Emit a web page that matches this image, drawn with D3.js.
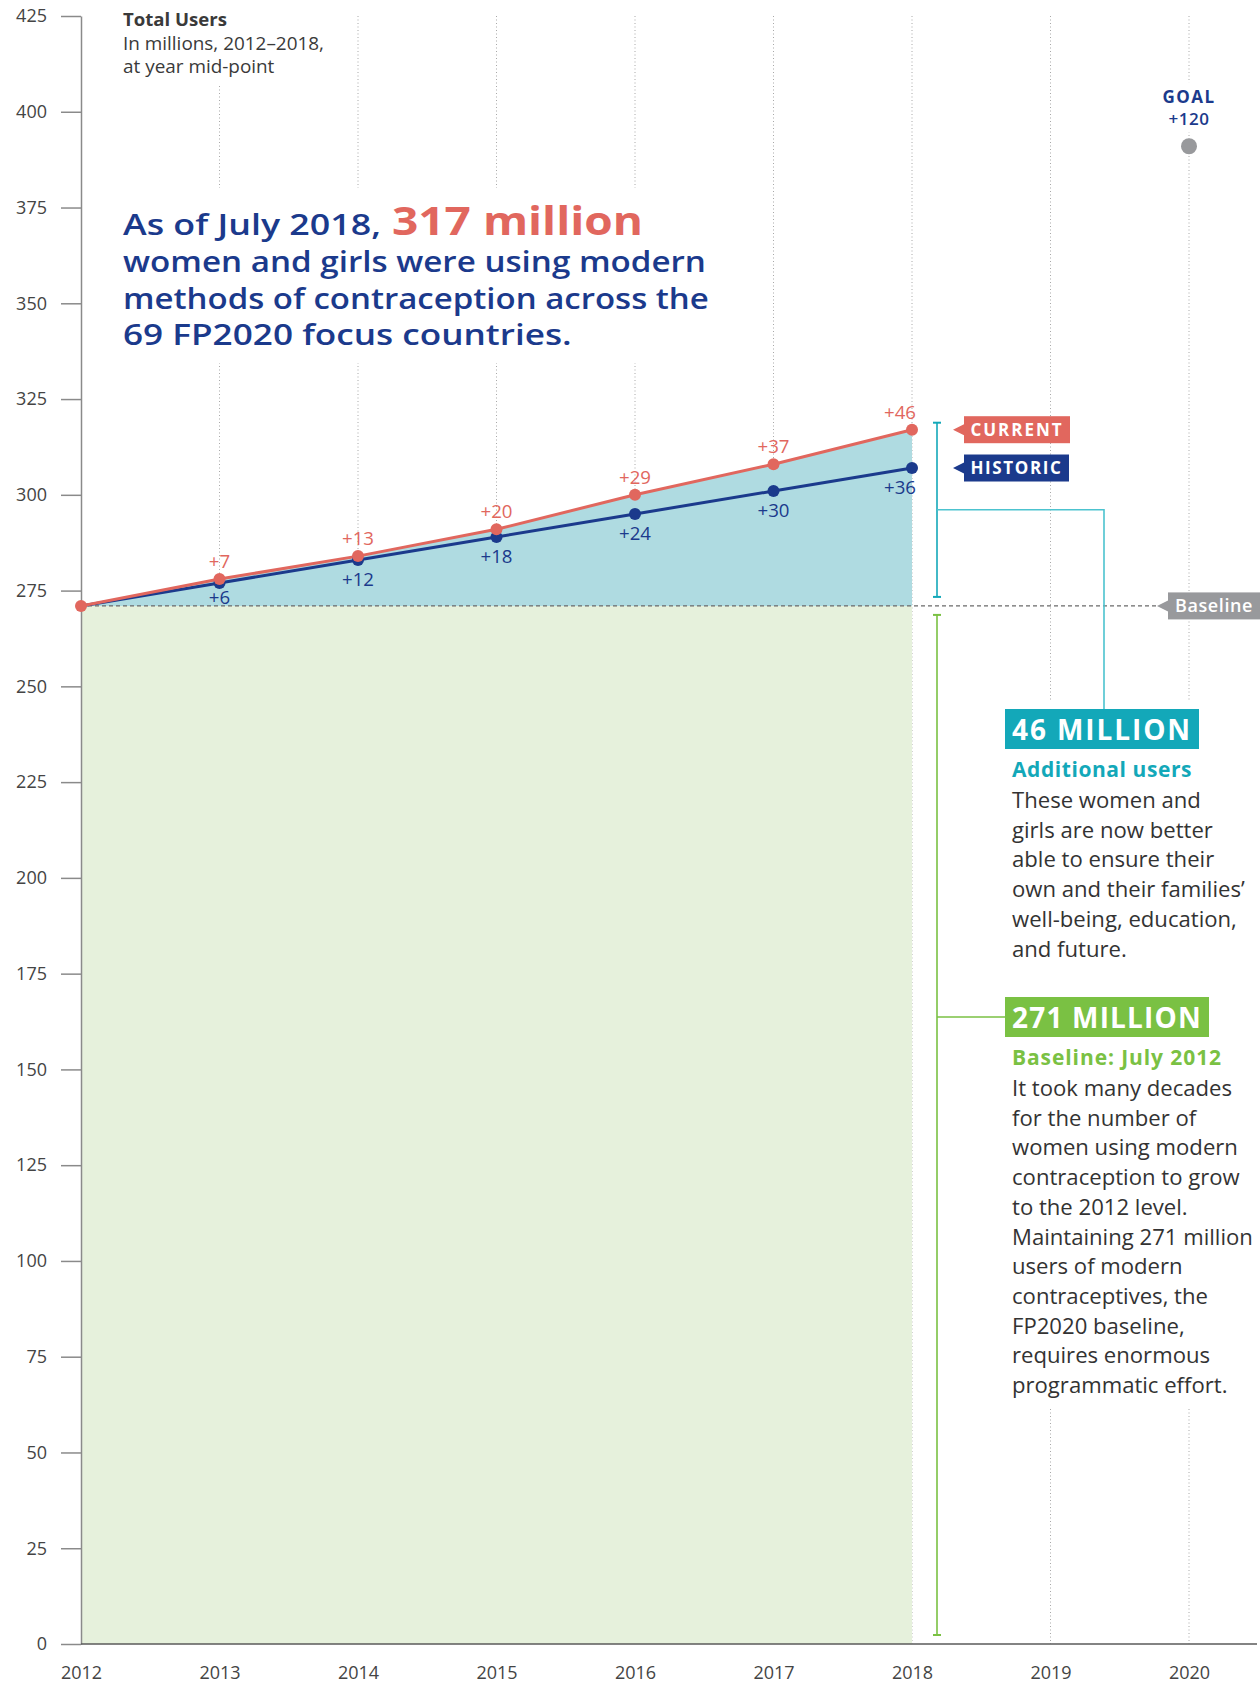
<!DOCTYPE html>
<html>
<head>
<meta charset="utf-8">
<script src="https://cdn.jsdelivr.net/npm/d3@7"></script>
<style>
  html, body { margin: 0; padding: 0; background: #fff; }
  svg { display: block; font-family: "Open Sans", "Noto Sans", sans-serif; }
</style>
</head>
<body>
<svg id="chart" width="1260" height="1685"></svg>
<script>
// ---- data ----
const years = [2012, 2013, 2014, 2015, 2016, 2017, 2018];
const currentUsers = [271, 278, 284, 291, 300, 308, 317];   // millions, current estimate
const historicUsers = [271, 277, 283, 289, 295, 301, 307];  // millions, historic trend
const baselineUsers = 271;
const goalYear = 2020;
const goalGain = 120;
const axisYears = [2012, 2013, 2014, 2015, 2016, 2017, 2018, 2019, 2020];
const gridYears = [2013, 2014, 2015, 2016, 2017, 2018, 2019, 2020];
const yTicks = [0, 25, 50, 75, 100, 125, 150, 175, 200, 225, 250, 275, 300, 325, 350, 375, 400, 425];

const headerLines = ["Total Users", "In millions, 2012–2018,", "at year mid-point"];
const headlineLead = "As of July 2018,";
const headlineHighlight = "317 million";
const headlineRest = ["women and girls were using modern", "methods of contraception across the", "69 FP2020 focus countries."];

const additionalTitle = "46 MILLION";
const additionalHeading = "Additional users";
const additionalBody = ["These women and", "girls are now better", "able to ensure their", "own and their families’", "well-being, education,", "and future."];

const baselineTitle = "271 MILLION";
const baselineHeading = "Baseline: July 2012";
const baselineBody = ["It took many decades", "for the number of", "women using modern", "contraception to grow", "to the 2012 level.", "Maintaining 271 million", "users of modern", "contraceptives, the", "FP2020 baseline,", "requires enormous", "programmatic effort."];

// ---- colours ----
const NAVY = "#1b3a8c";
const SALMON = "#e1675e";
const TEAL = "#13a8b9";
const TEAL_LIGHT = "#4cc3cf";
const TEAL_AREA = "#afdbe1";
const GREEN = "#7ac143";
const GREEN_AREA = "#e6f1dc";
const GREY = "#98999c";
const INK = "#333333";

const svg = d3.select("#chart");
const x = d3.scaleLinear().domain([2012, 2020]).range([81, 1189]);
const y = d3.scaleLinear().domain([0, 425]).range([1644, 16]);

// scale a text element's font-size so it spans the given width
function fit(sel, target) {
  const w = sel.node().getComputedTextLength();
  const fs = parseFloat(sel.attr("font-size"));
  const nfs = fs * target / w;
  sel.attr("font-size", nfs.toFixed(2));
  return nfs;
}
// keep the font-size, spread the letters so the text spans the given width
function spread(sel, target) {
  sel.attr("letter-spacing", 0);
  const w = sel.node().getComputedTextLength();
  const n = sel.text().length;
  sel.attr("letter-spacing", ((target - w) / n).toFixed(3));
}
// widen the glyphs horizontally (anchored at the text's x) to span the given width
function stretch(sel, target) {
  const w = sel.node().getComputedTextLength();
  const k = target / w;
  const x0 = parseFloat(sel.attr("x"));
  sel.attr("transform", `matrix(${k.toFixed(4)},0,0,1,${(x0 * (1 - k)).toFixed(2)},0)`);
}

const gGrid = svg.append("g");
const gKnock = svg.append("g");
const gArea = svg.append("g");
const gAxis = svg.append("g");
const gGuide = svg.append("g");
const gMarks = svg.append("g");
const gText = svg.append("g");

// dotted year gridlines
gGrid.selectAll("line").data(gridYears).join("line")
  .attr("x1", d => x(d)).attr("x2", d => x(d))
  .attr("y1", y(425)).attr("y2", y(0))
  .attr("stroke", "#a8a8a8").attr("stroke-width", 1)
  .attr("stroke-dasharray", "1 2.5");

// white knockout rectangle so the gridlines break around a text block
function knockout(x0, y0, x1, y1) {
  gKnock.append("rect").attr("x", x0).attr("y", y0)
    .attr("width", x1 - x0).attr("height", y1 - y0).attr("fill", "#fff");
}

// ---- areas ----
const series = years.map((yr, i) => ({ year: yr, cur: currentUsers[i], hist: historicUsers[i] }));
gArea.append("path").datum(series)
  .attr("d", d3.area().x(d => x(d.year)).y0(y(0)).y1(y(baselineUsers)))
  .attr("fill", GREEN_AREA);
gArea.append("path").datum(series)
  .attr("d", d3.area().x(d => x(d.year)).y0(y(baselineUsers)).y1(d => y(d.cur)))
  .attr("fill", TEAL_AREA);

// ---- axes ----
const yAxis = gAxis.append("g").attr("transform", `translate(${x(2012)},0)`)
  .call(d3.axisLeft(y).tickValues(yTicks).tickSize(20).tickSizeOuter(0).tickPadding(14));
yAxis.select(".domain").attr("stroke", "#8a8a8a").attr("stroke-width", 1.5);
yAxis.selectAll(".tick line").attr("stroke", "#8a8a8a").attr("stroke-width", 1.5);
yAxis.selectAll(".tick text").attr("font-size", 18).attr("fill", "#444")
  .attr("font-family", "'Open Sans', sans-serif");

const xAxis = gAxis.append("g").attr("transform", `translate(0,${y(0)})`)
  .call(d3.axisBottom(x).tickValues(axisYears).tickFormat(d3.format("d")).tickSize(0).tickPadding(22));
xAxis.select(".domain").remove();
xAxis.selectAll(".tick text").attr("font-size", 18).attr("fill", "#444")
  .attr("font-family", "'Open Sans', sans-serif");
gAxis.append("line")
  .attr("x1", x(2012)).attr("x2", x(2020) + 68)
  .attr("y1", y(0)).attr("y2", y(0))
  .attr("stroke", "#5a5a5a").attr("stroke-width", 1.5);

// baseline reference
gGuide.append("line")
  .attr("x1", x(2012)).attr("x2", x(2020) - 33)
  .attr("y1", y(baselineUsers)).attr("y2", y(baselineUsers))
  .attr("stroke", "#6a6a6a").attr("stroke-width", 1.3).attr("stroke-dasharray", "4 3");

// ---- lines and dots ----
const lineCur = d3.line().x(d => x(d.year)).y(d => y(d.cur));
const lineHist = d3.line().x(d => x(d.year)).y(d => y(d.hist));
gMarks.append("path").datum(series).attr("d", lineHist)
  .attr("fill", "none").attr("stroke", NAVY).attr("stroke-width", 3);
gMarks.append("path").datum(series).attr("d", lineCur)
  .attr("fill", "none").attr("stroke", SALMON).attr("stroke-width", 3);
gMarks.selectAll("circle.hist").data(series.slice(1)).join("circle").attr("class", "hist")
  .attr("cx", d => x(d.year)).attr("cy", d => y(d.hist)).attr("r", 6).attr("fill", NAVY);
gMarks.selectAll("circle.cur").data(series).join("circle").attr("class", "cur")
  .attr("cx", d => x(d.year)).attr("cy", d => y(d.cur)).attr("r", 6).attr("fill", SALMON);

// gain labels
const lastYear = years[years.length - 1];
const labelled = series.slice(1);
const curLabels = gMarks.selectAll("text.cur").data(labelled).join("text").attr("class", "cur")
  .attr("x", d => d.year === lastYear ? x(d.year) + 4 : x(d.year))
  .attr("y", d => y(d.cur) - 11)
  .attr("text-anchor", d => d.year === lastYear ? "end" : "middle")
  .attr("font-size", 17).attr("fill", SALMON)
  .text(d => "+" + (d.cur - baselineUsers));
const histLabels = gMarks.selectAll("text.hist").data(labelled).join("text").attr("class", "hist")
  .attr("x", d => d.year === lastYear ? x(d.year) + 4 : x(d.year))
  .attr("y", d => y(d.hist) + Math.min(26, y(baselineUsers) - y(d.hist) - 2))
  .attr("text-anchor", d => d.year === lastYear ? "end" : "middle")
  .attr("font-size", 17).attr("fill", NAVY)
  .text(d => "+" + (d.hist - baselineUsers));
const labelSize = fit(curLabels.filter(d => d.year === 2017), 32).toFixed(2);
curLabels.attr("font-size", labelSize);
histLabels.attr("font-size", labelSize);

// ---- pointer tags ----
function tag(cx, cy, label, fill, boxW, textW, fs, weight) {
  const g = gText.append("g");
  g.append("path")
    .attr("d", `M${cx},${cy} L${cx + 12},${cy - 6} L${cx + 12},${cy + 6} Z`)
    .attr("fill", fill);
  g.append("rect").attr("x", cx + 11).attr("y", cy - 13.5)
    .attr("width", boxW).attr("height", 27).attr("fill", fill);
  const t = g.append("text")
    .attr("x", cx + 11 + (boxW - textW) / 2).attr("y", cy + 6)
    .attr("fill", "#fff")
    .attr("font-size", fs).attr("font-weight", weight)
    .text(label);
  spread(t, textW);
}
const tagX = x(lastYear) + 41;
tag(tagX, y(currentUsers[currentUsers.length - 1]), "CURRENT", SALMON, 106, 93, 17, 700);
tag(tagX, y(historicUsers[historicUsers.length - 1]), "HISTORIC", NAVY, 105, 92, 17, 700);
tag(x(2020) - 32, y(baselineUsers), "Baseline", GREY, 92, 78, 18, 600);

// ---- brackets and connectors ----
const bx = x(lastYear) + 25;
function bracket(y1, y2, colour) {
  gGuide.append("line").attr("x1", bx).attr("x2", bx).attr("y1", y1).attr("y2", y2)
    .attr("stroke", colour).attr("stroke-width", 1.6);
  [y1, y2].forEach(v => gGuide.append("line")
    .attr("x1", bx - 4).attr("x2", bx + 4).attr("y1", v).attr("y2", v)
    .attr("stroke", colour).attr("stroke-width", 2));
}
const tealTop = y(currentUsers[currentUsers.length - 1]) - 7;
const tealBot = y(baselineUsers) - 9;
bracket(tealTop, tealBot, TEAL);
bracket(y(baselineUsers) + 9, y(0) - 9, GREEN);

// ---- annotation blocks ----
const annX = 1005;
function annotation(top, title, heading, body, titleW, headW, colour) {
  const g = gText.append("g");
  const box = g.append("rect").attr("x", annX).attr("y", top).attr("height", 40).attr("fill", colour);
  const t = g.append("text").attr("x", annX + 7).attr("y", top + 31)
    .attr("font-size", 28).attr("font-weight", 700).attr("fill", "#fff").text(title);
  spread(t, titleW);
  box.attr("width", titleW + 14);
  const h = g.append("text").attr("x", annX + 7).attr("y", top + 68)
    .attr("font-size", 21).attr("font-weight", 700).attr("fill", colour).text(heading);
  spread(h, headW);
  const lines = g.selectAll("text.body").data(body).join("text").attr("class", "body")
    .attr("x", annX + 7).attr("y", (d, i) => top + 99 + i * 29.7)
    .attr("font-size", 21).attr("fill", INK).text(d => d);
  return { g, lines };
}
const add = annotation(709, additionalTitle, additionalHeading, additionalBody, 180, 180, TEAL);
const base = annotation(997, baselineTitle, baselineHeading, baselineBody, 190, 210, GREEN);
// shared body size: the widest line of both notes spans the column
let widest = 0;
add.lines.each(function () { widest = Math.max(widest, this.getComputedTextLength()); });
base.lines.each(function () { widest = Math.max(widest, this.getComputedTextLength()); });
const bodySize = (21 * 241 / widest).toFixed(2);
add.lines.attr("font-size", bodySize);
base.lines.attr("font-size", bodySize);

// connectors from the brackets to the notes
const tealMid = (tealTop + tealBot) / 2;
gGuide.append("path")
  .attr("d", `M${bx},${tealMid} H1104 V709`)
  .attr("fill", "none").attr("stroke", TEAL_LIGHT).attr("stroke-width", 1.6);
gGuide.append("line")
  .attr("x1", bx).attr("x2", annX).attr("y1", 1017).attr("y2", 1017)
  .attr("stroke", GREEN).attr("stroke-width", 1.4);

// gridline breaks: notes column, header, headline, goal label
knockout(annX - 8, 702, 1260, 1407);

// ---- header ----
const header = gText.append("g");
const hdr = header.selectAll("text").data(headerLines).join("text")
  .attr("x", 123).attr("y", (d, i) => [26, 50, 73][i])
  .attr("font-size", 17).attr("font-weight", (d, i) => i === 0 ? 700 : 400)
  .attr("fill", "#3a3a3a").text(d => d);
fit(hdr.filter((d, i) => i === 0), 104);
const subSize = fit(hdr.filter((d, i) => i === 1), 201).toFixed(2);
hdr.filter((d, i) => i === 2).attr("font-size", subSize);
knockout(118, 5, 335, 86);

// ---- headline ----
const headline = gText.append("g");
const HEAD_SIZE = 28;
const rest = headline.selectAll("text.rest").data(headlineRest).join("text").attr("class", "rest")
  .attr("x", 123).attr("y", (d, i) => 272 + i * 36.7)
  .attr("font-size", HEAD_SIZE).attr("font-weight", 600).attr("fill", NAVY).text(d => d);
stretch(rest.filter((d, i) => i === 0), 583);
stretch(rest.filter((d, i) => i === 1), 586);
stretch(rest.filter((d, i) => i === 2), 449);
const lead = headline.append("text").attr("x", 123).attr("y", 235)
  .attr("font-size", HEAD_SIZE).attr("font-weight", 600).attr("fill", NAVY).text(headlineLead);
stretch(lead, 258);
const hl = headline.append("text").attr("x", 392).attr("y", 235)
  .attr("font-size", 40).attr("font-weight", 700).attr("fill", SALMON).text(headlineHighlight);
stretch(hl, 251);
knockout(115, 188, 716, 363);

// ---- goal ----
const goalValue = baselineUsers + goalGain;
gText.append("circle").attr("cx", x(goalYear)).attr("cy", y(goalValue)).attr("r", 8).attr("fill", GREY);
const goalText = gText.append("g");
spread(goalText.append("text").attr("x", x(goalYear) - 26.5).attr("y", y(goalValue) - 43)
  .attr("font-size", 17).attr("font-weight", 700)
  .attr("fill", NAVY).text("GOAL"), 53);
spread(goalText.append("text").attr("x", x(goalYear) - 20.5).attr("y", y(goalValue) - 21)
  .attr("font-size", 17).attr("font-weight", 600)
  .attr("fill", NAVY).text("+" + goalGain), 41);
knockout(x(goalYear) - 30, y(goalValue) - 64, x(goalYear) + 30, y(goalValue) - 14);
</script>
</body>
</html>
